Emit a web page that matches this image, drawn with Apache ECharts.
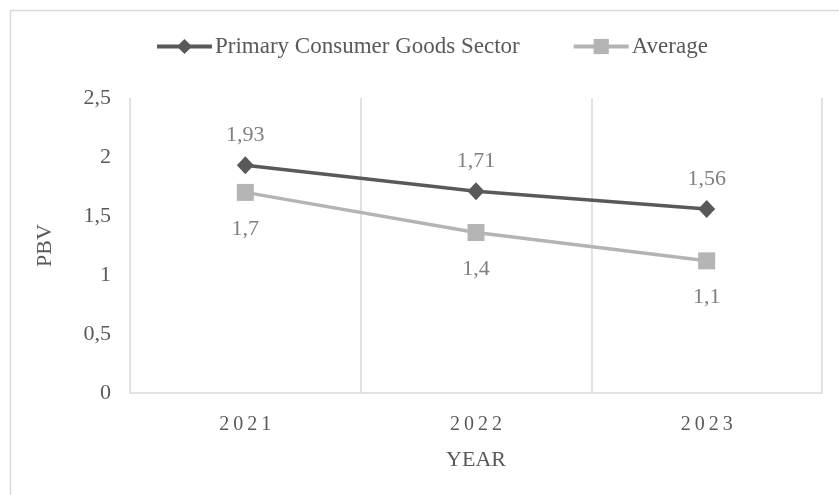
<!DOCTYPE html>
<html>
<head>
<meta charset="utf-8">
<script src="https://cdn.jsdelivr.net/npm/echarts@6/dist/echarts.min.js"></script>
<style>
  html, body { margin: 0; padding: 0; background: #fff; }
  #chart { width: 839px; height: 495px; }
</style>
</head>
<body>
<div id="chart"></div>
<script>
const years = ['2021', '2022', '2023']
const sectorName = 'Primary Consumer Goods Sector'
const sectorValues = [1.93, 1.71, 1.56]
const averageName = 'Average'
const averageValues = [1.7, 1.36, 1.12]
const yTicks = [0, 0.5, 1, 1.5, 2, 2.5]

const comma = (v, digits) => (digits == null ? String(v) : v.toFixed(digits)).replace('.', ',')

const chart = echarts.init(document.getElementById('chart'))

const font = 'Liberation Serif'
const axisGrey = '#595959'
const lineGrey = '#d9d9d9'

const option = {
  animation: false,
  textStyle: { fontFamily: font },
  graphic: [
    {
      type: 'rect',
      shape: { x: 10.5, y: 10.5, width: 840, height: 500 },
      style: { fill: 'none', stroke: lineGrey, lineWidth: 1.5 },
      silent: true
    }
  ],
  legend: {
    left: 150,
    top: 30,
    itemWidth: 55,
    itemHeight: 19,
    itemGap: 52,
    lineStyle: { width: 4 },
    textStyle: { fontFamily: font, fontSize: 23, color: axisGrey, padding: [0, 0, 0, -2] },
    data: [sectorName, averageName]
  },
  grid: {
    left: 130,
    right: 17,
    top: 98,
    bottom: 102
  },
  xAxis: {
    type: 'category',
    data: years,
    boundaryGap: true,
    name: 'YEAR',
    nameLocation: 'middle',
    nameGap: 56,
    nameTextStyle: { fontFamily: font, fontSize: 22, color: axisGrey },
    axisLine: { lineStyle: { color: lineGrey, width: 1.5 } },
    axisTick: { show: false },
    axisLabel: {
      margin: 22,
      fontFamily: font,
      fontSize: 20,
      color: axisGrey,
      formatter: (v) => v.split('').join('\u2009')
    },
    splitLine: { show: true, lineStyle: { color: lineGrey, width: 1.5 } }
  },
  yAxis: {
    type: 'value',
    min: yTicks[0],
    max: yTicks[yTicks.length - 1],
    interval: 0.5,
    name: 'PBV',
    nameLocation: 'middle',
    nameGap: 74,
    nameTextStyle: { fontFamily: font, fontSize: 22, color: axisGrey },
    axisLine: { show: false },
    axisTick: { show: false },
    axisLabel: {
      margin: 19,
      fontFamily: font,
      fontSize: 22,
      color: axisGrey,
      formatter: (v) => comma(v)
    },
    splitLine: { show: false }
  },
  series: [
    {
      name: sectorName,
      type: 'line',
      data: sectorValues,
      symbol: 'diamond',
      symbolSize: [17, 18],
      lineStyle: { color: '#595959', width: 3.5 },
      itemStyle: { color: '#595959' },
      label: {
        show: true,
        position: 'top',
        distance: 10,
        fontFamily: font,
        fontSize: 22,
        color: '#7f7f7f',
        formatter: (p) => comma(p.value, 2)
      },
      z: 3
    },
    {
      name: averageName,
      type: 'line',
      data: averageValues,
      symbol: 'rect',
      symbolSize: 17,
      lineStyle: { color: '#b4b4b4', width: 3.5 },
      itemStyle: { color: '#b4b4b4' },
      label: {
        show: true,
        position: 'bottom',
        distance: 17,
        fontFamily: font,
        fontSize: 22,
        color: '#7f7f7f',
        formatter: (p) => comma(p.value, 1)
      },
      z: 2
    }
  ]
}

chart.setOption(option)
</script>
</body>
</html>
